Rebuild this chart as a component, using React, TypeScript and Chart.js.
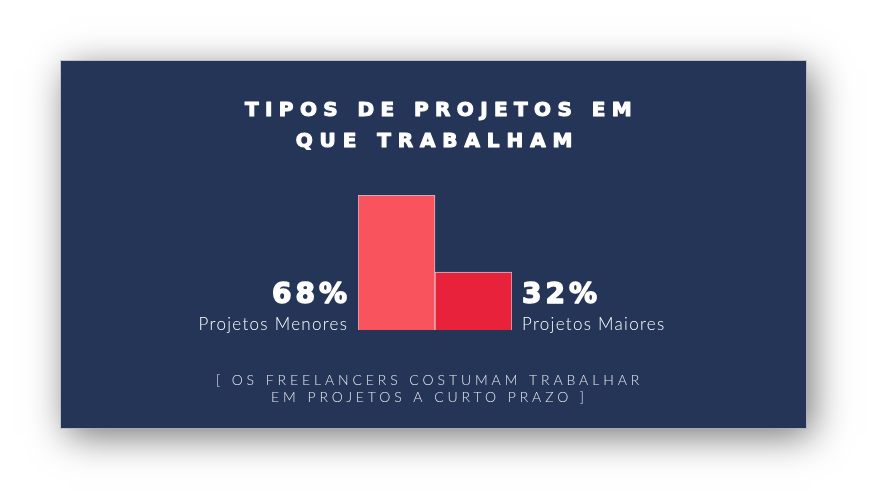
import React, { useEffect, useRef } from "react";
import { Chart, registerables } from "chart.js";

Chart.register(...registerables);

const categories = ["Projetos Menores", "Projetos Maiores"];
const values = [68, 32];
const percentLabels = ["68%", "32%"];
const barColors = ["#F9545E", "#E8223A"];
const titleLines = ["TIPOS DE PROJETOS EM", "QUE TRABALHAM"];
const footerLines = ["[ OS FREELANCERS COSTUMAM TRABALHAR", "EM PROJETOS A CURTO PRAZO ]"];

const CARD_W = 745;
const CARD_H = 367;

function heavyText(ctx: CanvasRenderingContext2D, text: string, x: number, y: number, w: number) {
  ctx.fillText(text, x, y);
  ctx.lineWidth = w;
  ctx.lineJoin = "round";
  ctx.strokeStyle = ctx.fillStyle as string;
  ctx.strokeText(text, x, y);
}

const textPlugin = {
  id: "cardText",
  afterDraw(chart: any) {
    const ctx = chart.ctx as CanvasRenderingContext2D;
    const area = chart.chartArea;
    const meta = chart.getDatasetMeta(0);
    ctx.save();
    ctx.textBaseline = "alphabetic";

    // title
    ctx.fillStyle = "#ffffff";
    ctx.font = "bold 20px 'DejaVu Sans'";
    (ctx as any).letterSpacing = "6.4px";
    ctx.textAlign = "center";
    const tx = CARD_W / 2 + 8;
    heavyText(ctx, titleLines[0], tx, 55, 1.1);
    (ctx as any).letterSpacing = "6.9px";
    heavyText(ctx, titleLines[1], tx - 4, 86, 1.1);

    // bar labels
    meta.data.forEach((bar: any, i: number) => {
      const half = bar.width / 2;
      const left = i === 0;
      const x = left ? bar.x - half - 11 : bar.x + half + 11;
      ctx.textAlign = left ? "right" : "left";
      ctx.fillStyle = "#ffffff";
      ctx.font = "bold 28px 'DejaVu Sans'";
      (ctx as any).letterSpacing = "4px";
      heavyText(ctx, percentLabels[i], x + (left ? 4 : -1), area.bottom - 27, 1.5);
      ctx.font = "300 17px Lato";
      (ctx as any).letterSpacing = "1.3px";
      ctx.fillText(categories[i], x + (left ? 1.3 : -1), area.bottom);
    });

    // footer
    ctx.fillStyle = "#e6e8ee";
    ctx.font = "300 14px Lato";
    (ctx as any).letterSpacing = "3.9px";
    ctx.textAlign = "center";
    const fx = CARD_W / 2 - 4;
    ctx.fillText(footerLines[0], fx, 324);
    ctx.fillText(footerLines[1], fx, 341);
    ctx.restore();
  },
};

export default function App() {
  const ref = useRef<HTMLCanvasElement>(null);
  useEffect(() => {
    if (!ref.current) return;
    const chart = new Chart(ref.current, {
      type: "bar",
      data: {
        labels: categories,
        datasets: [
          {
            data: values,
            backgroundColor: barColors,
            borderColor: "rgba(255,225,230,0.8)",
            borderWidth: 1,
            categoryPercentage: 1,
            barPercentage: 1,
          },
        ],
      },
      options: {
        animation: false,
        responsive: false,
        devicePixelRatio: 1,
        layout: { padding: { left: 297, right: 294, top: 134, bottom: 98 } },
        plugins: { legend: { display: false }, tooltip: { enabled: false }, title: { display: false } },
        scales: {
          x: { display: false },
          y: { display: false, min: 5, max: 68 },
        },
      },
      plugins: [textPlugin],
    });
    return () => chart.destroy();
  }, []);

  return (
    <div style={{ position: "absolute", left: 0, top: 0, width: 869, height: 491, background: "#ffffff", overflow: "hidden" }}>
      <div
        style={{
          position: "absolute",
          left: 61,
          top: 61,
          width: CARD_W,
          height: CARD_H,
          background: "#253557",
          boxShadow: "0 0 0 1px rgba(170,178,192,0.6), 6px 8px 36px rgba(0,0,0,0.55)",
        }}
      >
        <canvas ref={ref} width={CARD_W} height={CARD_H} style={{ display: "block" }} />
      </div>
    </div>
  );
}
